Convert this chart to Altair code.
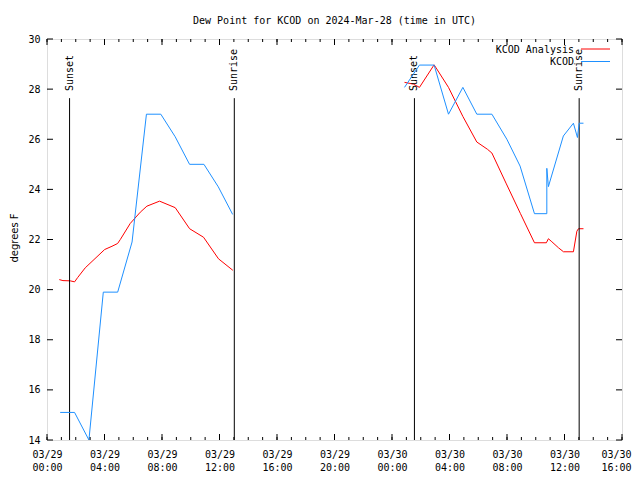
import altair as alt
import pandas as pd

# time = hours since 2024-03-29 00:00 UTC ; values = dew point (deg F)
obs1_t = [0.917, 1.917, 2.917, 3.917, 4.917, 5.917, 6.917, 7.917, 8.917, 9.917, 10.917, 11.917, 12.917]
obs1_v = [15.1, 15.1, 14.0, 19.9, 19.9, 21.9, 27.0, 27.0, 26.1, 25.0, 25.0, 24.1, 23.0]

obs2_t = [24.87, 25.91, 26.93, 27.93, 28.93, 29.9, 30.95, 31.99, 32.91, 33.91, 34.77, 34.77, 34.88, 35.92, 36.62, 36.9, 37.02, 37.32]
obs2_v = [28.07, 28.96, 28.96, 27.0, 28.07, 27.0, 27.0, 26.0, 24.93, 23.03, 23.03, 24.84, 24.11, 26.13, 26.64, 26.07, 26.64, 26.64]

ana1_t = [0.855, 1.11, 1.62, 1.92, 2.13, 2.66, 4.01, 4.52, 4.91, 5.1, 5.79, 6.49, 6.95, 7.83, 8.92, 9.92, 10.89, 11.93, 12.93]
ana1_v = [20.4, 20.36, 20.35, 20.31, 20.48, 20.87, 21.6, 21.73, 21.84, 22.0, 22.64, 23.09, 23.33, 23.53, 23.27, 22.43, 22.09, 21.23, 20.77]

ana2_t = [24.87, 25.49, 25.91, 26.93, 27.93, 28.93, 29.9, 30.64, 30.95, 31.93, 32.93, 33.91, 34.74, 34.88, 35.12, 35.58, 35.93, 36.62, 36.86, 36.97, 37.32]
ana2_v = [28.27, 28.2, 28.07, 28.97, 28.07, 26.91, 25.89, 25.6, 25.45, 24.25, 23.04, 21.87, 21.87, 22.03, 21.91, 21.67, 21.51, 21.51, 22.33, 22.43, 22.43]

sun_t = [1.57, 13.03, 25.56, 37.02]
sun_label = ["Sunset", "Sunrise", "Sunset", "Sunrise"]
sun_top = 27.64

x_major = list(range(0, 41, 4))
x_minor = list(range(0, 41))
y_major = list(range(14, 31, 2))

legend_names = ["KCOD Analysis", "KCOD"]
RED = "#ff0000"
BLUE = "#1e90ff"
MONO = "DejaVu Sans Mono"
W, H = 575, 401


def seg(ts, vs, name):
    return pd.DataFrame({"t": ts, "v": vs, "seg": name, "i": range(len(ts))})


obs = pd.concat([seg(obs1_t, obs1_v, "o1"), seg(obs2_t, obs2_v, "o2")])
ana = pd.concat([seg(ana1_t, ana1_v, "a1"), seg(ana2_t, ana2_v, "a2")])
sun = pd.DataFrame({"t": sun_t, "label": sun_label, "v": sun_top})
xmaj = pd.DataFrame({"t": x_major})
xmin = pd.DataFrame({"t": x_minor})
ymaj = pd.DataFrame({"v": y_major})

xs = alt.Scale(domain=[0, 40], nice=False, zero=False)
ys = alt.Scale(domain=[14, 30], nice=False, zero=False)

xaxis = alt.Axis(
    values=x_major, ticks=False, domain=False, grid=False, title=None,
    labelExpr="[datum.value < 24 ? '03/29' : '03/30', format(datum.value % 24, '02d') + ':00']",
    labelFont=MONO, labelFontSize=10, labelColor="black", labelPadding=9,
    labelLineHeight=13, labelFlush=False, labelOverlap=False, labelBound=False,
    labelOffset={"condition": {"test": "datum.value >= 40", "value": -6}, "value": 0},
)
yaxis = alt.Axis(
    values=y_major, ticks=False, domain=False, grid=False, title="degrees F",
    labelFont=MONO, labelFontSize=10, labelColor="black", labelPadding=7,
    titleFont="DejaVu Sans", titleFontSize=10, titleFontWeight="normal", titleColor="black",
    titleAngle=270, titleX=-33, titleY=H / 2 - 2, titleAlign="center", titleBaseline="middle",
)

X = alt.X("t:Q", scale=xs, axis=xaxis)
Y = alt.Y("v:Q", scale=ys, axis=yaxis)

ana_line = alt.Chart(ana).mark_line(color=RED, strokeWidth=1, clip=True).encode(
    x=X, y=Y, detail="seg:N", order="i:Q",
)
obs_line = alt.Chart(obs).mark_line(color=BLUE, strokeWidth=1, clip=True).encode(
    x=X, y=Y, detail="seg:N", order="i:Q",
)

sun_rule = alt.Chart(sun).mark_rule(color="black", strokeWidth=1).encode(
    x=X, y=Y, y2=alt.value(H),
)
sun_text = alt.Chart(sun).mark_text(
    angle=270, align="left", baseline="middle", font=MONO, fontSize=10, color="black"
).encode(x=X, y=alt.value(52), text="label:N")

tick_bot_maj = alt.Chart(xmaj).mark_rule(color="black").encode(
    x=X, y=alt.value(H), y2=alt.value(H - 6))
tick_top_maj = alt.Chart(xmaj).mark_rule(color="black").encode(
    x=X, y=alt.value(0), y2=alt.value(6))
tick_bot_min = alt.Chart(xmin).mark_rule(color="black").encode(
    x=X, y=alt.value(H), y2=alt.value(H - 3))
tick_top_min = alt.Chart(xmin).mark_rule(color="black").encode(
    x=X, y=alt.value(0), y2=alt.value(3))
tick_left = alt.Chart(ymaj).mark_rule(color="black").encode(
    y=Y, x=alt.value(0), x2=alt.value(6))
tick_right = alt.Chart(ymaj).mark_rule(color="black").encode(
    y=Y, x=alt.value(W), x2=alt.value(W - 6))

leg_text1 = alt.Chart(pd.DataFrame({"n": [legend_names[0]]})).mark_text(
    align="right", baseline="middle", font=MONO, fontSize=10, color="black"
).encode(x=alt.value(527), y=alt.value(11), text="n:N")
leg_text2 = alt.Chart(pd.DataFrame({"n": [legend_names[1]]})).mark_text(
    align="right", baseline="middle", font=MONO, fontSize=10, color="black"
).encode(x=alt.value(527), y=alt.value(23), text="n:N")
leg_line1 = alt.Chart(pd.DataFrame({"n": [legend_names[0]]})).mark_rule(color=RED).encode(
    x=alt.value(534), x2=alt.value(563), y=alt.value(10))
leg_line2 = alt.Chart(pd.DataFrame({"n": [legend_names[1]]})).mark_rule(color=BLUE).encode(
    x=alt.value(534), x2=alt.value(563), y=alt.value(22.5))

chart = alt.layer(
    ana_line, sun_rule, sun_text, obs_line,
    tick_bot_maj, tick_top_maj, tick_bot_min, tick_top_min, tick_left, tick_right,
    leg_text1, leg_text2, leg_line1, leg_line2,
).properties(
    width=W, height=H,
    autosize=alt.AutoSizeParams(type="none"),
    padding={"left": 39, "top": 31, "right": 10, "bottom": 40},
    title=alt.Title(
        "Dew Point for KCOD on 2024-Mar-28 (time in UTC)",
        font=MONO, fontSize=10, fontWeight="normal", color="black",
        anchor="middle", frame="group", baseline="bottom", offset=-2,
    ),
).configure_view(stroke="black", strokeWidth=1).configure(background="white")

chart.save("out.html", embed_options={"renderer": "svg", "actions": False})
